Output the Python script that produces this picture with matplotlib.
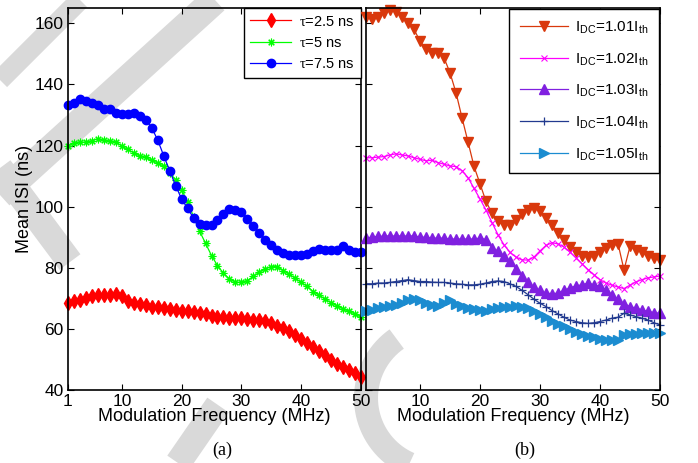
import matplotlib
matplotlib.use("Agg")
import matplotlib.pyplot as plt
import numpy as np

plt.rcParams['font.family'] = ['Liberation Sans', 'DejaVu Sans']
plt.rcParams['mathtext.fontset'] = 'custom'
plt.rcParams['mathtext.rm'] = 'Liberation Serif'
plt.rcParams['mathtext.sf'] = 'Liberation Sans'
plt.rcParams['mathtext.it'] = 'Liberation Sans:italic'

freq = list(range(1, 51))

# Panel (a): delay tau
tau_25 = [68.4, 69.2, 69.5, 70.1, 70.6, 71.2, 71.2, 71.2, 71.5, 70.8,
          69.0, 68.4, 68.1, 67.7, 67.3, 67.0, 66.8, 66.4, 66.2, 66.0,
          65.7, 65.5, 65.1, 64.8, 64.3, 64.0, 63.8, 63.7, 63.5, 63.4,
          63.2, 63.0, 63.0, 62.6, 61.9, 61.1, 60.3, 59.2, 58.1, 56.6,
          55.3, 54.0, 52.6, 51.3, 49.8, 48.5, 47.4, 46.5, 45.4, 44.3]
tau_5 = [120.0, 120.7, 121.1, 121.1, 121.6, 122.2, 121.7, 121.4, 121.2, 119.8,
         118.7, 117.6, 116.6, 116.1, 115.2, 114.3, 113.2, 111.0, 108.8, 105.5,
         101.6, 96.7, 92.0, 88.0, 84.0, 80.7, 78.2, 76.3, 75.3, 75.2,
         75.8, 77.2, 78.6, 79.6, 80.4, 80.4, 79.1, 77.9, 76.6, 75.2,
         73.9, 72.2, 71.1, 69.7, 68.6, 67.5, 66.6, 65.7, 64.9, 63.8]
tau_75 = [133.4, 133.9, 135.3, 134.5, 133.9, 133.1, 132.1, 131.8, 130.7, 130.2,
          130.2, 130.5, 129.8, 128.5, 125.8, 121.8, 116.7, 111.8, 106.9, 102.5,
          99.4, 96.3, 94.3, 94.1, 94.1, 95.7, 97.7, 99.3, 99.0, 98.3,
          96.1, 93.8, 91.4, 89.2, 87.3, 85.7, 84.8, 84.3, 84.1, 84.1,
          84.5, 85.4, 86.1, 85.9, 85.7, 85.9, 87.0, 85.9, 85.1, 85.1]

# Panel (b): bias current
idc_101 = [161.9, 161.3, 162.1, 163.5, 164.3, 163.8, 161.9, 160.2, 158.0, 154.2,
           151.5, 150.4, 150.4, 148.7, 143.8, 137.3, 129.1, 121.2, 113.2, 107.5,
           101.7, 97.9, 95.2, 93.9, 94.1, 95.7, 97.6, 99.0, 99.6, 98.5,
           96.3, 93.9, 91.4, 89.2, 86.7, 85.0, 83.9, 83.5, 83.9, 85.0,
           86.4, 87.3, 87.9, 79.3, 87.0, 85.9, 85.0, 83.9, 83.2, 82.4]
idc_102 = [116.0, 116.0, 116.2, 116.4, 116.9, 117.3, 116.9, 116.6, 116.0, 115.5,
           115.0, 115.2, 114.4, 113.9, 113.3, 113.1, 111.8, 109.5, 106.0, 102.5,
           98.9, 94.8, 90.8, 87.5, 85.0, 83.5, 82.6, 82.5, 83.5, 85.5,
           87.3, 88.2, 87.8, 86.8, 85.1, 83.3, 81.3, 79.4, 77.7, 76.1,
           75.0, 74.3, 73.7, 73.2, 74.3, 75.4, 76.1, 76.7, 77.0, 77.3]
idc_103 = [89.7, 90.0, 90.3, 90.3, 90.5, 90.3, 90.5, 90.3, 90.5, 90.0,
           90.0, 89.7, 89.7, 89.7, 89.4, 89.4, 89.4, 89.4, 89.4, 89.7,
           89.2, 86.5, 85.4, 83.9, 82.1, 79.6, 77.4, 75.2, 73.7, 72.6,
           71.7, 71.5, 71.7, 72.6, 73.4, 74.1, 74.4, 75.0, 74.4, 73.9,
           72.8, 71.2, 69.7, 68.2, 67.3, 66.8, 66.2, 65.7, 65.3, 65.1]
idc_104 = [74.75, 74.75, 75.0, 75.0, 75.2, 75.5, 75.8, 76.1, 75.8, 75.5,
           75.5, 75.3, 75.2, 75.2, 75.0, 74.75, 74.6, 74.4, 74.4, 74.6,
           75.0, 75.5, 75.7, 75.5, 74.75, 73.9, 72.6, 71.2, 69.7, 68.4,
           67.3, 66.0, 64.9, 63.8, 62.9, 62.4, 62.0, 61.8, 62.0, 62.4,
           62.9, 63.5, 63.8, 65.1, 64.6, 64.0, 63.5, 62.9, 62.0, 61.3]
idc_105 = [65.7, 66.2, 66.8, 67.1, 67.5, 67.9, 68.6, 69.3, 69.7, 69.3,
           68.6, 67.9, 67.5, 68.6, 69.3, 68.3, 67.5, 66.8, 66.4, 66.2,
           66.0, 66.4, 66.8, 67.1, 67.3, 67.5, 67.3, 66.8, 66.0, 64.9,
           63.8, 62.7, 61.6, 60.8, 59.9, 59.1, 58.4, 57.7, 57.3, 56.6,
           56.4, 56.2, 56.4, 58.0, 58.4, 58.4, 58.6, 58.6, 58.6, 58.6]

labels_a = [r'$\mathrm{\tau}$=2.5 ns', r'$\mathrm{\tau}$=5 ns', r'$\mathrm{\tau}$=7.5 ns']
labels_b = [r'I$_{\mathsf{DC}}$=1.01I$_{\mathsf{th}}$', r'I$_{\mathsf{DC}}$=1.02I$_{\mathsf{th}}$',
            r'I$_{\mathsf{DC}}$=1.03I$_{\mathsf{th}}$', r'I$_{\mathsf{DC}}$=1.04I$_{\mathsf{th}}$',
            r'I$_{\mathsf{DC}}$=1.05I$_{\mathsf{th}}$']
xticks_a = [1, 10, 20, 30, 40, 50]
xticks_b = [10, 20, 30, 40, 50]
yticks = [40, 60, 80, 100, 120, 140, 160]

W, H = 698, 463
fig = plt.figure(figsize=(W / 100, H / 100), dpi=100)

# background watermark layer (pixel coordinates)
bg = fig.add_axes([0, 0, 1, 1], zorder=-10)
bg.set_xlim(0, W)
bg.set_ylim(H, 0)
bg.axis('off')
wm = dict(color='#d9d9d9', solid_capstyle='butt')
px = 0.72
bg.plot([80, 0], [0, 80], lw=20 * px, **wm)
bg.plot([215, 0], [0, 195], lw=28 * px, **wm)
bg.plot([0, 70], [168, 262], lw=26 * px, **wm)
bg.plot([178, 218], [463, 405], lw=26 * px, **wm)
t = np.linspace(np.radians(125), np.radians(250), 40)
bg.plot(438 + 72 * np.cos(t), 398 - 72 * np.sin(t), lw=24 * px, **wm)

axA = fig.add_axes([68 / W, 1 - 390 / H, 293 / W, 382 / H])
axB = fig.add_axes([366 / W, 1 - 390 / H, 294 / W, 382 / H])
axA.set_facecolor('none')
axB.set_facecolor('none')

kw = dict(lw=0.9, clip_on=False)
axA.plot(freq, tau_25, color='#ff0000', marker='d', ms=7, mec='#ff0000', label=labels_a[0], **kw)
axA.plot(freq, tau_5, color='#00ff00', marker=(8, 2, 0), ms=5.5, mew=0.8, label=labels_a[1], **kw)
axA.plot(freq, tau_75, color='#0000ff', marker='o', ms=6, mec='#0000ff', label=labels_a[2], **kw)

c1, c2, c3, c4, c5 = '#d9380c', '#ff00ff', '#8020e0', '#223a8f', '#1b8cd0'
axB.plot(freq, idc_101, color=c1, marker='v', ms=6.5, mec=c1, label=labels_b[0], **kw)
axB.plot(freq, idc_102, color=c2, marker='x', ms=4, mew=0.8, label=labels_b[1], **kw)
axB.plot(freq, idc_103, color=c3, marker='^', ms=6.5, mec=c3, label=labels_b[2], **kw)
axB.plot(freq, idc_104, color=c4, marker='+', ms=6, mew=0.9, label=labels_b[3], **kw)
axB.plot(freq, idc_105, color=c5, marker='>', ms=6.5, mec=c5, label=labels_b[4], **kw)

for ax, xt in [(axA, xticks_a), (axB, xticks_b)]:
    ax.set_xlim(1, 50)
    ax.set_ylim(40, 165)
    ax.set_xticks(xt)
    ax.set_yticks(yticks)
    ax.tick_params(direction='in', top=True, right=True, length=4, width=0.8,
                   labelsize=12.5, pad=3)
    for s in ax.spines.values():
        s.set_linewidth(1.2)
    ax.set_xlabel('Modulation Frequency (MHz)', fontsize=13, labelpad=-1)

axA.set_ylabel('Mean ISI (ns)', fontsize=13, labelpad=1)
axB.tick_params(labelleft=False)

legA = axA.legend(loc='upper right', fontsize=10.5, frameon=True, fancybox=False,
                  edgecolor='black', framealpha=1, borderaxespad=0, handlelength=2.75,
                  handletextpad=0.55, labelspacing=0.5, borderpad=0.45)
legA.get_frame().set_linewidth(1.0)
legB = axB.legend(loc='upper right', fontsize=11, frameon=True, fancybox=False,
                  edgecolor='black', framealpha=1, borderaxespad=0.05, handlelength=3.1,
                  handletextpad=0.5, labelspacing=1.0, borderpad=0.7)
legB.get_frame().set_linewidth(1.0)

fig.text(222 / W, 1 - 450 / H, '(a)', ha='center', va='center', fontsize=13,
         family='Liberation Serif')
fig.text(525 / W, 1 - 450 / H, '(b)', ha='center', va='center', fontsize=13,
         family='Liberation Serif')

fig.savefig('out.png', dpi=100)
